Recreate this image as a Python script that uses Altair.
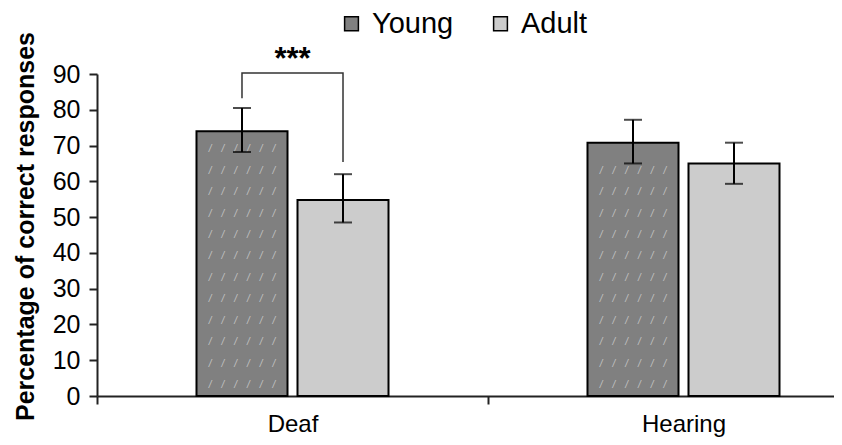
import altair as alt
import pandas as pd

# ---- data ----
GROUPS = ["Deaf", "Deaf", "Hearing", "Hearing"]
AGES = ["Young", "Adult", "Young", "Adult"]
MEANS = [74.0, 54.8, 70.8, 65.0]
LOWS = [68.2, 48.5, 65.0, 59.3]
HIGHS = [80.5, 62.0, 77.2, 70.8]

BRACKET_GROUP = ["Deaf", "Deaf", "Deaf", "Deaf"]
BRACKET_AGE = ["Young", "Young", "Adult", "Adult"]
BRACKET_Y = [83.2, 90.3, 90.3, 65.4]
BRACKET_ORDER = [0, 1, 2, 3]

SIG_GROUP = ["Deaf"]
SIG_Y = [94.0]
SIG_TEXT = ["***"]

Y_TICKS = [0, 10, 20, 30, 40, 50, 60, 70, 80, 90]
HATCH_LEVELS = [3, 9, 15, 21, 27, 33, 39, 45, 51, 57, 63, 69]

AGE_ORDER = ["Young", "Adult"]
COLORS = ["#808080", "#cccccc"]
FONT = "Liberation Sans"
Y_TITLE = "Percentage of correct responses"

bars = pd.DataFrame({"group": GROUPS, "age": AGES, "mean": MEANS, "lo": LOWS, "hi": HIGHS})
bracket = pd.DataFrame({"group": BRACKET_GROUP, "age": BRACKET_AGE, "y": BRACKET_Y, "o": BRACKET_ORDER})
sig = pd.DataFrame({"group": SIG_GROUP, "y": SIG_Y, "t": SIG_TEXT})

hatch_rows = []
for g, a, m in zip(GROUPS, AGES, MEANS):
    if a == "Young":
        for lv in HATCH_LEVELS:
            if lv < m - 3:
                hatch_rows.append({"group": g, "age": a, "y": lv})
hatch = pd.DataFrame(hatch_rows)

x_enc = alt.X(
    "group:N",
    sort=["Deaf", "Hearing"],
    scale=alt.Scale(domain=["Deaf", "Hearing"], range=[0, 782], paddingInner=0, paddingOuter=0),
    axis=alt.Axis(
        title=None, labelAngle=0, labelFont=FONT, labelFontSize=24, labelColor="#000",
        labelPadding=8, tickBand="extent", tickSize=8, tickWidth=2, tickColor="#222",
        domainColor="#222", domainWidth=2,
    ),
)
xo_enc = alt.XOffset(
    "age:N", sort=AGE_ORDER,
    scale=alt.Scale(domain=AGE_ORDER, paddingInner=0.099, paddingOuter=0.985),
)
y_scale = alt.Scale(domain=[0, 90], nice=False)


def y_axis():
    return alt.Axis(
        title=Y_TITLE, titleFont=FONT, titleFontSize=25,
        titleFontWeight="bold", titleColor="#000", titlePadding=14, titleY=152,
        values=Y_TICKS, labelOverlap=False, labelFont=FONT,
        labelFontSize=25, labelColor="#000", labelBaseline="middle",
        labelPadding=9, tickSize=8, tickWidth=2, tickColor="#222", domainColor="#222",
        domainWidth=2, grid=False,
    )


def Y(field):
    return alt.Y(field, scale=y_scale, axis=y_axis(), title=Y_TITLE)


base = alt.Chart(bars)

bar_layer = base.mark_bar(stroke="#000", strokeWidth=2).encode(
    x=x_enc,
    xOffset=xo_enc,
    y=Y("mean:Q"),
    fill=alt.Fill(
        "age:N", sort=AGE_ORDER,
        scale=alt.Scale(domain=AGE_ORDER, range=COLORS),
        legend=alt.Legend(
            title=None, orient="none", legendX=240, legendY=-65, direction="horizontal",
            symbolType="square", symbolSize=190, symbolStrokeColor="#000", symbolStrokeWidth=1.5,
            labelFont=FONT, labelFontSize=29, labelColor="#000", labelOffset=6,
            columnPadding=32,
        ),
    ),
)

hatch_layer = alt.Chart(hatch).mark_text(
    text="/\u2003/\u2003/\u2003/\u2003/\u2003/", fontSize=10, fontStyle="italic",
    color="#c4c4c4", font=FONT, baseline="middle"
).encode(x="group:N", xOffset="age:N", y=Y("y:Q"))

err_rule = base.mark_rule(color="#000", strokeWidth=2).encode(
    x="group:N", xOffset="age:N", y=Y("lo:Q"), y2="hi:Q"
)
cap_lo = base.mark_tick(color="#000", thickness=2, size=18).encode(
    x="group:N", xOffset="age:N", y=Y("lo:Q")
)
cap_hi = base.mark_tick(color="#000", thickness=2, size=18).encode(
    x="group:N", xOffset="age:N", y=Y("hi:Q")
)

bracket_layer = alt.Chart(bracket).mark_line(color="#333", strokeWidth=1.5).encode(
    x="group:N", xOffset="age:N", y=Y("y:Q"), order="o:Q"
)

sig_layer = alt.Chart(sig).mark_text(
    fontSize=31, font=FONT, fontWeight="bold", color="#000", baseline="middle"
).encode(x="group:N", y=Y("y:Q"), text="t:N")

chart = alt.layer(
    bar_layer, hatch_layer, err_rule, cap_lo, cap_hi, bracket_layer, sig_layer
).properties(
    width=737, height=322,
    autosize=alt.AutoSizeParams(type="none"),
    padding={"left": 89, "top": 66, "right": 0, "bottom": 41},
).configure_view(stroke=None).configure_axis(labelFlush=False)

chart.save("out.html", embed_options={"renderer": "svg", "actions": False})
